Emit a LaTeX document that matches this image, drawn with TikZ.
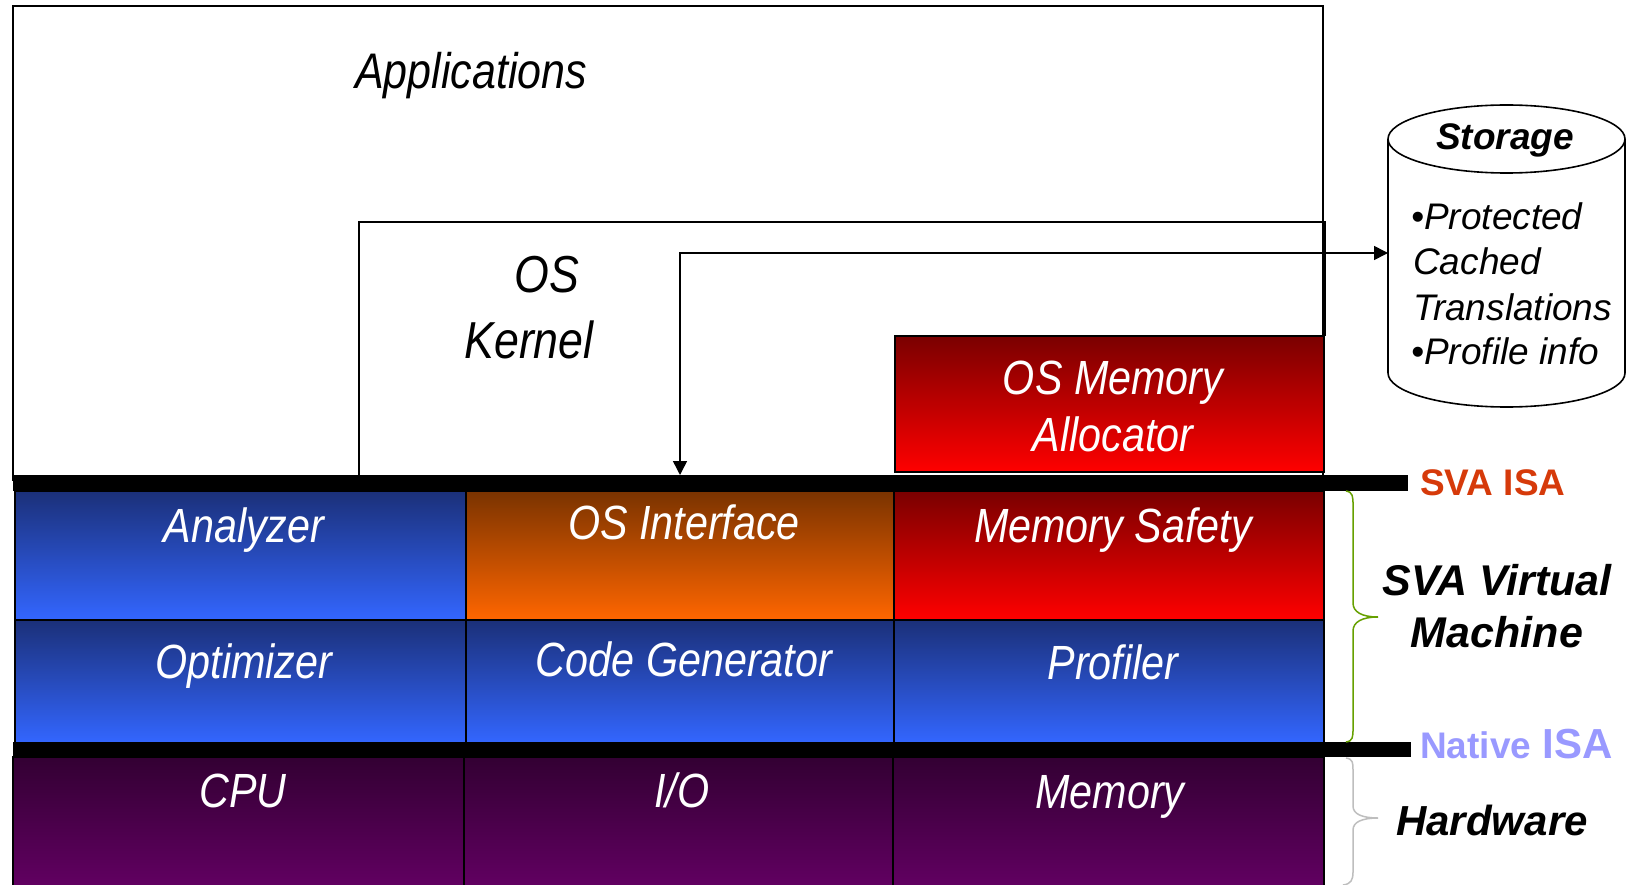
\documentclass[tikz,border=0pt]{standalone}
\usepackage{fontspec}
\usetikzlibrary{arrows.meta}
\newfontfamily\nar[FakeStretch=0.86]{Liberation Sans}
\newfontfamily\ars{Liberation Sans}
\definecolor{bluetop}{RGB}{27,48,121}
\definecolor{bluebot}{RGB}{51,102,255}
\definecolor{redtop}{RGB}{122,0,0}
\definecolor{redbot}{RGB}{255,0,0}
\definecolor{orgtop}{RGB}{122,51,0}
\definecolor{orgbot}{RGB}{255,102,0}
\definecolor{purtop}{RGB}{51,0,51}
\definecolor{purbot}{RGB}{102,0,102}
\definecolor{svaisa}{RGB}{214,58,10}
\definecolor{nativeisa}{RGB}{153,153,255}
\definecolor{bracegreen}{RGB}{102,160,0}
\definecolor{bracegray}{RGB}{190,190,190}
\tikzset{
  thinline/.style={draw=black, line width=1.6pt},
  boxblue/.style={draw=black, line width=1.4pt, top color=bluetop, bottom color=bluebot},
  boxred/.style={draw=black, line width=1.4pt, top color=redtop, bottom color=redbot},
  boxorg/.style={draw=black, line width=1.4pt, top color=orgtop, bottom color=orgbot},
  boxpur/.style={draw=black, line width=1.4pt, top color=purtop, bottom color=purbot},
  wlbl/.style={font=\nar\itshape\fontsize{48}{50}\selectfont, text=white, anchor=base, inner sep=0pt},
  blbl/.style={font=\nar\itshape\fontsize{52}{54}\selectfont, text=black, anchor=base, inner sep=0pt},
  rlbl/.style={font=\ars\bfseries\itshape\fontsize{43}{45}\selectfont, text=black, anchor=base, inner sep=0pt},
  slbl/.style={font=\ars\itshape\fontsize{37}{38}\selectfont, text=black, anchor=base west, inner sep=0pt},
  isabar/.style={fill=black},
  dblarrow/.style={line width=1.5pt, >={Triangle[length=14pt,width=14pt]}, <->}
}
\begin{document}
\begin{tikzpicture}[x=1pt,y=-1pt]
\clip (0,0) rectangle (1627,885);
\fill[white] (0,0) rectangle (1627,885);

% Applications box
\draw[thinline] (13,6) rectangle (1323,480);
\node[blbl, font=\nar\itshape\fontsize{50}{52}\selectfont] (apps) at (471,89) {Applications};

% OS kernel box
\draw[thinline] (359,480) |- (1325,222) -- (1325,336);
\node[blbl] (os) at (547,293) {OS};
\node[blbl] (kernel) at (529,358) {Kernel};

% OS Memory Allocator
\path[boxred] (895,336) rectangle (1324,472);
\node[wlbl] (osmem1) at (1113,394) {OS Memory};
\node[wlbl] (osmem2) at (1113,451) {Allocator};

% SVA virtual machine rows
\path[boxblue] (15,491) rectangle (466,620);
\path[boxorg]  (466,491) rectangle (894,620);
\path[boxred]  (894,491) rectangle (1324,620);
\path[boxblue] (15,620) rectangle (466,743);
\path[boxblue] (466,620) rectangle (894,743);
\path[boxblue] (894,620) rectangle (1324,743);
\node[wlbl] (analyzer) at (244,542) {Analyzer};
\node[wlbl] (osif) at (684,539) {OS Interface};
\node[wlbl] (memsafe) at (1113,542) {Memory Safety};
\node[wlbl] (optim) at (244,678) {Optimizer};
\node[wlbl] (codegen) at (684,676) {Code Generator};
\node[wlbl] (profiler) at (1113,679) {Profiler};

% Hardware row
\path[boxpur] (13,757) rectangle (464,900);
\path[boxpur] (464,757) rectangle (893,900);
\path[boxpur] (893,757) rectangle (1324,900);
\node[wlbl] (cpu) at (243,807) {CPU};
\node[wlbl] (io) at (682,807) {I/O};
\node[wlbl] (mem) at (1110,808) {Memory};

% ISA bars
\path[isabar] (13,475) rectangle (1408,491);
\path[isabar] (13,742) rectangle (1411,757);

% Storage cylinder
\coordinate (cylTop) at (1506.5,139);
\coordinate (cylBot) at (1506.5,373);
\fill[white] (1388,139) rectangle (1625,373);
\fill[white] (cylBot) ellipse[x radius=118.5, y radius=34];
\draw[thinline] (1388,139) -- (1388,373) arc[start angle=180, end angle=0, x radius=118.5, y radius=34] -- (1625,139);
\draw[thinline, fill=white] (cylTop) ellipse[x radius=118.5, y radius=34];
\node[rlbl, font=\ars\bfseries\itshape\fontsize{37}{38}\selectfont] (storage) at (1505,150) {Storage};
\node[slbl] (st1) at (1411,230) {•Protected};
\node[slbl] (st2) at (1413,275) {Cached};
\node[slbl] (st3) at (1413,320) {Translations};
\node[slbl] (st4) at (1411,364) {•Profile info};

% Connector OS Interface <-> Storage
\coordinate (osifIn) at (680,475);
\coordinate (storIn) at (1388,253);
\draw[dblarrow] (osifIn) |- (storIn);

% Right labels
\node[anchor=base west, inner sep=0pt, font=\ars\bfseries\fontsize{37}{38}\selectfont, text=svaisa] (svaisa) at (1420,495) {SVA ISA};
\node[anchor=base west, inner sep=0pt, font=\ars\bfseries\fontsize{42}{43}\selectfont, text=nativeisa] (native) at (1420,758) {{\fontsize{37}{38}\selectfont Native} ISA};
\node[rlbl] (vm1) at (1497,595) {SVA Virtual};
\node[rlbl] (vm2) at (1497,647) {Machine};
\node[rlbl, font=\ars\bfseries\itshape\fontsize{42}{44}\selectfont] (hw) at (1492,835) {Hardware};

% Braces
\draw[bracegreen, line width=1.5pt] (1346,491) .. controls (1353,492) and (1353,497) .. (1353,505) -- (1353,603) .. controls (1353,612) and (1362,617) .. (1378,617) .. controls (1362,617) and (1353,622) .. (1353,631) -- (1353,728) .. controls (1353,737) and (1353,741) .. (1346,742);
\draw[bracegray, line width=1.5pt] (1346,758) .. controls (1353,759) and (1353,763) .. (1353,770) -- (1353,806) .. controls (1353,814) and (1362,818) .. (1378,818) .. controls (1362,818) and (1353,822) .. (1353,830) -- (1353,872) .. controls (1353,880) and (1351,884) .. (1343,885);
\end{tikzpicture}
\end{document}
